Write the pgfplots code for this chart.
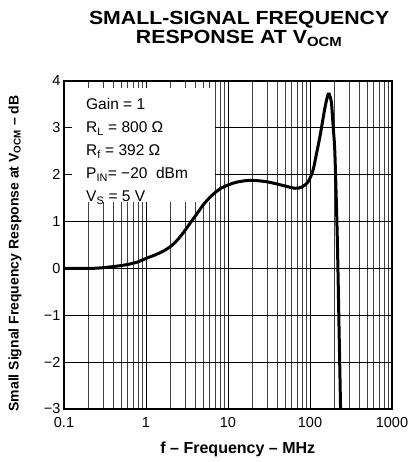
\documentclass[border=0pt]{standalone}
\usepackage{fontspec}
\setmainfont{Liberation Sans}
\newfontfamily\titlefont[FakeStretch=1.12]{Liberation Sans}
\usepackage{pgfplots}
\pgfplotsset{compat=1.18}
\begin{document}
\begin{tikzpicture}
% page: 417 x 462, axis box 328 x 328 with its lower left corner at the origin
\useasboundingbox (-64pt,-53pt) rectangle (353pt,409pt);
\begin{axis}[
  scale only axis,
  width=328pt, height=328pt,
  xmode=log, log basis x=10,
  xmin=0.1, xmax=1000, ymin=-3, ymax=4,
  xtick={0.1,1,10,100,1000},
  xticklabels={0.1,1,10,100,1000},
  minor xtick={0.2,0.3,0.4,0.5,0.6,0.7,0.8,0.9,2,3,4,5,6,7,8,9,
               20,30,40,50,60,70,80,90,200,300,400,500,600,700,800,900},
  ytick={-3,-2,-1,0,1,2,3,4},
  yticklabels={−3,−2,−1,0,1,2,3,4},
  grid=both,
  major grid style={black, line width=0.8pt},
  minor grid style={black!75, line width=0.8pt},
  axis line style={line width=1.8pt},
  tick style={draw=none},
  ticklabel style={font=\fontsize{14.5}{16}\selectfont},
  xticklabel style={yshift=-5pt},
  xlabel={\textbf{f -- Frequency -- MHz}},
  xlabel style={font=\fontsize{16}{18}\selectfont,
    at={(axis description cs:0.53,0)}, anchor=center, yshift=-40pt},
  ylabel={\textbf{Small Signal Frequency Response at V\textsubscript{OCM} -- dB}},
  ylabel style={font=\fontsize{14}{16}\selectfont,
    at={(axis description cs:0,0.474)}, anchor=center, yshift=49pt},
  title={SMALL-SIGNAL FREQUENCY\\RESPONSE AT V\textsubscript{OCM}},
  title style={align=center, font=\titlefont\bfseries\fontsize{19}{19}\selectfont,
    at={(axis description cs:0.534,1)}, anchor=south, inner sep=0pt, yshift=28pt},
]
% white box for the test conditions, over the grid
\fill[white] (rel axis cs:0.024,0.631) rectangle (rel axis cs:0.46,0.979);
\begin{scope}[every node/.style={anchor=base west, inner sep=0pt,
    font=\fontsize{15.5}{18}\selectfont}]
\node at (rel axis cs:0.067,0.912) {Gain = 1};
\node at (rel axis cs:0.067,0.842) {R\textsubscript{L} = 800 Ω};
\node at (rel axis cs:0.067,0.772) {R\textsubscript{f} = 392 Ω};
\node at (rel axis cs:0.067,0.702) {P\textsubscript{IN}= −20~~dBm};
\node at (rel axis cs:0.067,0.632) {V\textsubscript{S} = 5 V};
\end{scope}
\addplot[black, line width=3pt, smooth, tension=0.5] coordinates {
 (0.1,0) (0.15,0) (0.2,0.0) (0.275,0.01) (0.4,0.04) (0.58,0.08)
 (0.8,0.14) (1.02,0.22) (1.3,0.29) (1.63,0.37) (2.0,0.47) (2.37,0.59)
 (2.9,0.78) (3.46,0.97) (4.2,1.17) (5.0,1.36) (6.3,1.55) (8.0,1.70)
 (10,1.78) (12.7,1.84) (18.6,1.88) (29.6,1.85) (47,1.77) (65.6,1.71)
 (80,1.74) (95,1.85) (109,2.10) (120,2.45) (132,2.81) (153,3.45)
 (167,3.72) (175,3.68) (183,3.52) (192,3.0) (201,2.46) (215,0.68)
 (227,-1.45) (236,-3.0)
};
\end{axis}
\end{tikzpicture}
\end{document}
